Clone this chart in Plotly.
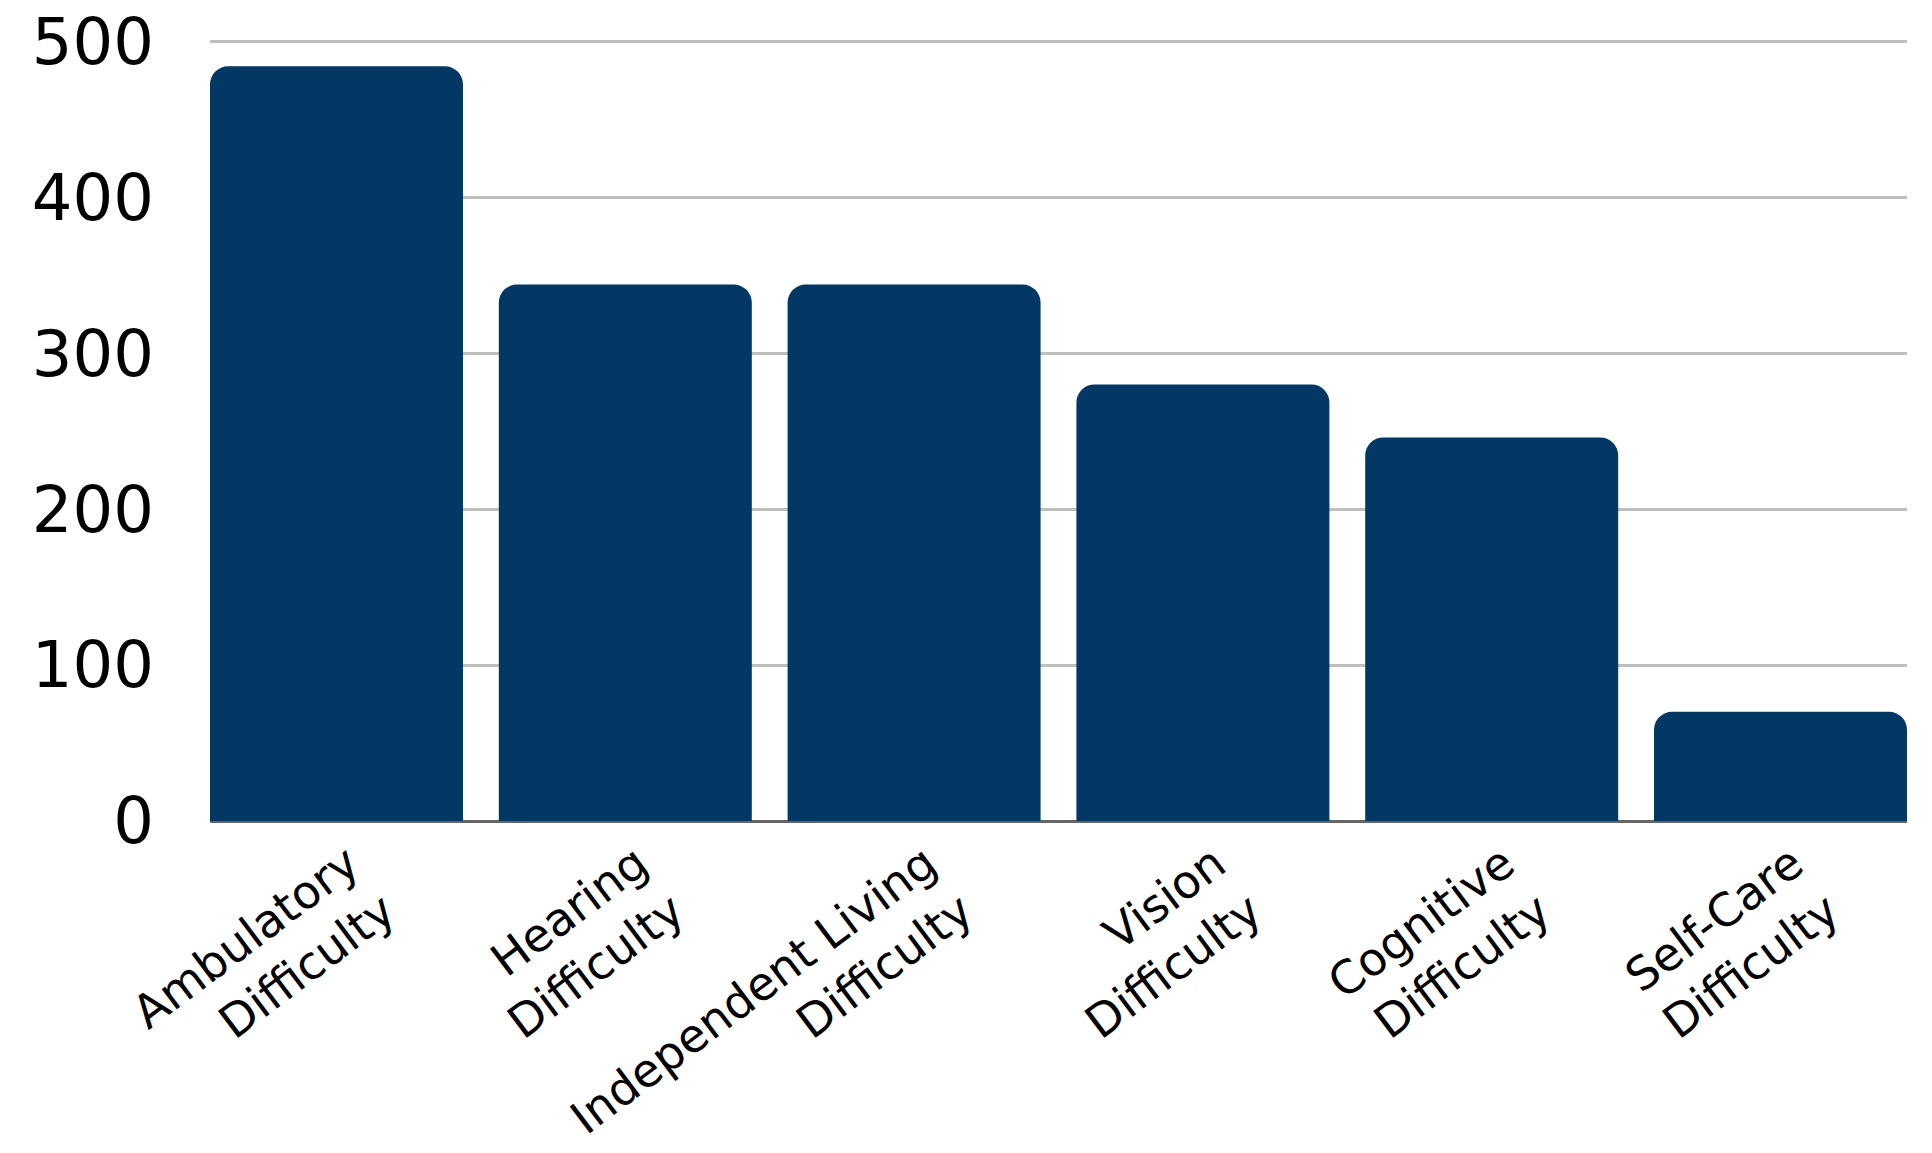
import plotly.graph_objects as go

categories = [
    "Ambulatory<br>Difficulty",
    "Hearing<br>Difficulty",
    "Independent Living<br>Difficulty",
    "Vision<br>Difficulty",
    "Cognitive<br>Difficulty",
    "Self-Care<br>Difficulty",
]
values = [484, 344, 344, 280, 246, 70]
y_ticks = [0, 100, 200, 300, 400, 500]

bar_color = "#033764"
gap = 0.124
half = (1 - gap) / 2

fig = go.Figure(
    go.Bar(
        x=categories,
        y=values,
        marker=dict(color=bar_color, cornerradius=18, line=dict(width=0)),
        hoverinfo="x+y",
    )
)

fig.update_layout(
    width=1932,
    height=1153,
    margin=dict(l=210, r=25, t=39, b=332, autoexpand=False),
    paper_bgcolor="white",
    plot_bgcolor="white",
    bargap=gap,
    showlegend=False,
    font=dict(family="DejaVu Sans", color="#000000"),
)

fig.update_xaxes(
    type="category",
    range=[-half, len(categories) - 1 + half],
    showgrid=False,
    showline=False,
    zeroline=False,
    ticks="",
    tickangle=-37,
    ticklabelstandoff=6,
    ticklabelshift=12,
    tickfont=dict(size=46, family="DejaVu Sans", color="#000000"),
)

fig.update_yaxes(
    range=[0, 501.5],
    tickvals=y_ticks,
    ticktext=[str(v) for v in y_ticks],
    showgrid=True,
    gridcolor="#BFBFBF",
    gridwidth=2.5,
    zeroline=True,
    zerolinecolor="#666666",
    zerolinewidth=2.5,
    showline=False,
    ticks="",
    ticklabelstandoff=55,
    tickfont=dict(size=64, family="DejaVu Sans", color="#000000"),
)

fig.write_html("out.html")
